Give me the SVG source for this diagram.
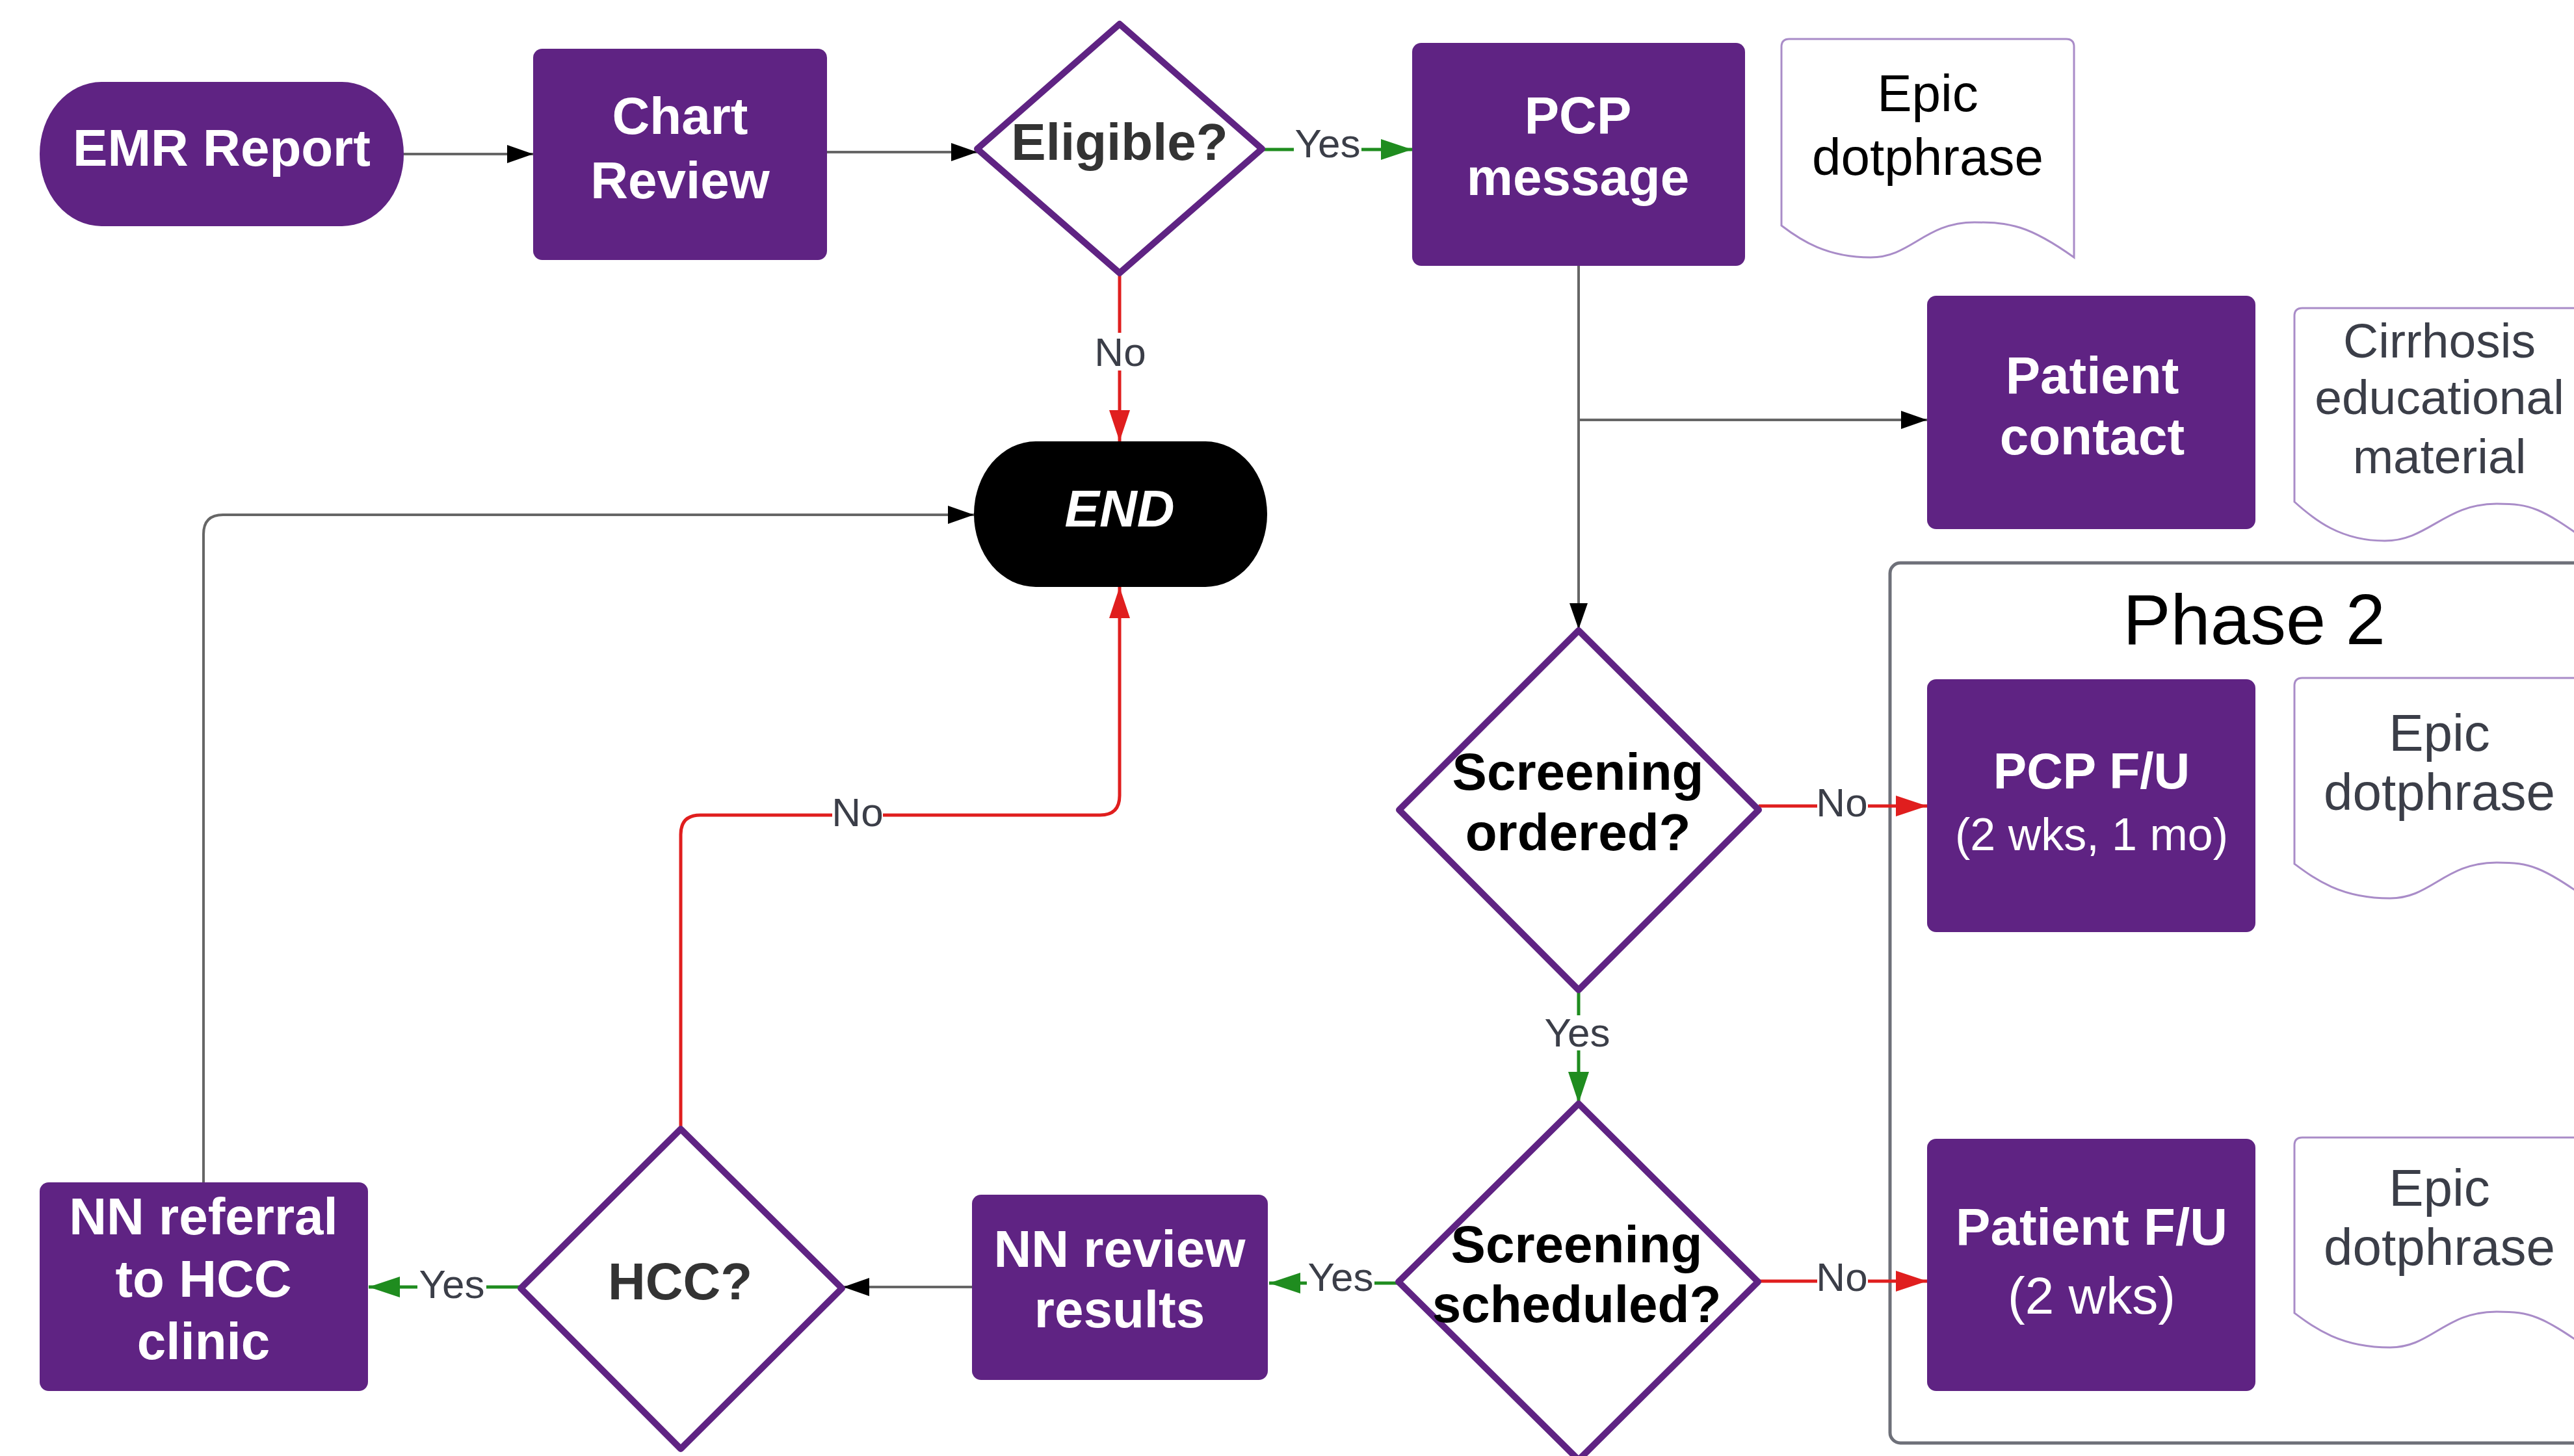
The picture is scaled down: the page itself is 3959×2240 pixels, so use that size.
<svg xmlns="http://www.w3.org/2000/svg" width="3959" height="2240" viewBox="0 0 3959 2240">
<defs>
<style>
.proc{fill:#5f2383;}
.dia{fill:#fff;stroke:#5f2383;stroke-width:10;stroke-linejoin:round;}
.doc{fill:#fff;stroke:#a98cc8;stroke-width:3;}
.nt{font-family:"Liberation Sans",Arial,sans-serif;font-weight:bold;font-size:80px;fill:#fff;text-anchor:middle;dominant-baseline:central;}
.dt{font-family:"Liberation Sans",Arial,sans-serif;font-weight:bold;font-size:80px;fill:#000;text-anchor:middle;dominant-baseline:central;}
.rt{font-family:"Liberation Sans",Arial,sans-serif;font-size:80px;fill:#3b3e48;text-anchor:middle;dominant-baseline:central;}
.lb{font-family:"Liberation Sans",Arial,sans-serif;font-size:62px;fill:#3b3e48;text-anchor:middle;dominant-baseline:central;}
.lbg{fill:#fff;}
.cb{fill:none;stroke:#666;stroke-width:4;}
.cr{fill:none;stroke:#e01e1e;stroke-width:5;}
.cg{fill:none;stroke:#1f8c1f;stroke-width:5;}
</style>
<marker id="ab" viewBox="0 0 10 10" refX="10" refY="5" markerWidth="40" markerHeight="28" markerUnits="userSpaceOnUse" orient="auto" preserveAspectRatio="none"><path d="M0,0 L10,5 L0,10 z" fill="#000"/></marker>
<marker id="ar" viewBox="0 0 10 10" refX="10" refY="5" markerWidth="48" markerHeight="32" markerUnits="userSpaceOnUse" orient="auto" preserveAspectRatio="none"><path d="M0,0 L10,5 L0,10 z" fill="#e01e1e"/></marker>
<marker id="ag" viewBox="0 0 10 10" refX="10" refY="5" markerWidth="48" markerHeight="32" markerUnits="userSpaceOnUse" orient="auto" preserveAspectRatio="none"><path d="M0,0 L10,5 L0,10 z" fill="#1f8c1f"/></marker>
</defs>
<rect x="0" y="0" width="3959" height="2240" fill="#fff"/>

<g id="phase2">
<rect x="2907" y="866" width="1120" height="1354" rx="16" fill="none" stroke="#6e7079" stroke-width="5"/>
<text x="3467" y="952" font-family="'Liberation Sans',Arial,sans-serif" font-size="110" fill="#000" text-anchor="middle" dominant-baseline="central">Phase 2</text>
</g>

<g id="connectors">
<path class="cb" d="M621,237 H820" marker-end="url(#ab)"/>
<path class="cb" d="M1272,234 H1503" marker-end="url(#ab)"/>
<path class="cg" d="M1941,230 H2172" marker-end="url(#ag)"/>
<path class="cr" d="M1722,420 V679" marker-end="url(#ar)"/>
<path class="cb" d="M2428,409 V968" stroke-width="3" stroke="#444" marker-end="url(#ab)"/>
<path class="cb" d="M2428,646 H2964" stroke-width="3" stroke="#444" marker-end="url(#ab)"/>
<path class="cr" d="M2705,1240 H2964" marker-end="url(#ar)"/>
<path class="cg" d="M2428,1523 V1697" marker-end="url(#ag)"/>
<path class="cg" d="M2151,1974 H1952" marker-end="url(#ag)"/>
<path class="cr" d="M2704,1971 H2964" marker-end="url(#ar)"/>
<path class="cb" d="M1495,1980 H1297" marker-end="url(#ab)"/>
<path class="cg" d="M801,1980 H567" marker-end="url(#ag)"/>
<path class="cr" d="M1047,1737 V1284 Q1047,1254 1077,1254 H1692 Q1722,1254 1722,1224 V903" marker-end="url(#ar)"/>
<path class="cb" d="M313,1820 V822 Q313,792 343,792 H1498" stroke="#999" marker-end="url(#ab)"/>
<g id="labels">
<rect class="lbg" x="1990" y="195" width="104" height="52"/>
<text class="lb" x="2042" y="220">Yes</text>
<rect class="lbg" x="1690" y="512" width="66" height="58"/>
<text class="lb" x="1723" y="541">No</text>
<rect class="lbg" x="2795" y="1208" width="78" height="52"/>
<text class="lb" x="2833" y="1234">No</text>
<rect class="lbg" x="2374" y="1562" width="104" height="54"/>
<text class="lb" x="2426" y="1588">Yes</text>
<rect class="lbg" x="2010" y="1940" width="104" height="50"/>
<text class="lb" x="2062" y="1964">Yes</text>
<rect class="lbg" x="2795" y="1938" width="78" height="52"/>
<text class="lb" x="2833" y="1964">No</text>
<rect class="lbg" x="642" y="1950" width="106" height="50"/>
<text class="lb" x="695" y="1975">Yes</text>
<rect class="lbg" x="1280" y="1224" width="78" height="52"/>
<text class="lb" x="1319" y="1249">No</text>
</g>
</g>

<g id="emr">
<rect x="61" y="126" width="560" height="222" rx="95" ry="111" class="proc"/>
<text class="nt" x="341" y="227">EMR Report</text>
</g>
<g id="chart">
<rect x="820" y="75" width="452" height="325" rx="14" class="proc"/>
<text class="nt" x="1046" y="178">Chart</text>
<text class="nt" x="1046" y="277">Review</text>
</g>
<g id="eligible">
<path class="dia" d="M1722,37 L1941,229 L1722,420 L1503,229 Z"/>
<text class="dt" x="1722" y="218" style="fill:#333">Eligible?</text>
</g>
<g id="pcpmsg">
<rect x="2172" y="66" width="512" height="343" rx="14" class="proc"/>
<text class="nt" x="2427" y="177">PCP</text>
<text class="nt" x="2427" y="272">message</text>
</g>
<g id="doc1">
<path class="doc" d="M2740,72 Q2740,60 2752,60 H3178 Q3190,60 3190,72 V396 C3120,346 3090,342 3037,342 C2960,342 2940,396 2877,396 C2810,396 2770,370 2740,347 Z"/>
<text class="rt" x="2965" y="143" style="fill:#000">Epic</text>
<text class="rt" x="2965" y="241" style="fill:#000">dotphrase</text>
</g>
<g id="patientcontact">
<rect x="2964" y="455" width="505" height="359" rx="14" class="proc"/>
<text class="nt" x="3218" y="577">Patient</text>
<text class="nt" x="3218" y="671">contact</text>
</g>
<g id="doc2">
<path class="doc" d="M3529,486 Q3529,474 3541,474 H3967 Q3979,474 3979,486 V832 C3909,782 3893,775 3840,775 C3760,775 3735,832 3668,832 C3600,832 3560,800 3529,772 Z"/>
<text class="rt" x="3752" y="524" style="font-size:75px">Cirrhosis</text>
<text class="rt" x="3752" y="611" style="font-size:75px">educational</text>
<text class="rt" x="3752" y="702" style="font-size:75px">material</text>
</g>
<g id="end">
<rect x="1498" y="679" width="451" height="224" rx="95" ry="112" fill="#000"/>
<text class="nt" x="1722" y="782" font-style="italic">END</text>
</g>
<g id="scrordered">
<path class="dia" d="M2428,970 L2705,1246 L2428,1523 L2152,1246 Z"/>
<text class="dt" x="2427" y="1187">Screening</text>
<text class="dt" x="2427" y="1280">ordered?</text>
</g>
<g id="pcpfu">
<rect x="2964" y="1045" width="505" height="389" rx="14" class="proc"/>
<text class="nt" x="3217" y="1186" style="font-size:77px">PCP F/U</text>
<text class="nt" x="3217" y="1284" style="font-weight:normal;font-size:70px">(2 wks, 1 mo)</text>
</g>
<g id="doc3">
<path class="doc" d="M3529,1055 Q3529,1043 3541,1043 H3967 Q3979,1043 3979,1055 V1382 C3909,1334 3893,1327 3840,1327 C3760,1327 3740,1382 3676,1382 C3600,1382 3560,1352 3529,1329 Z"/>
<text class="rt" x="3752" y="1127">Epic</text>
<text class="rt" x="3752" y="1218">dotphrase</text>
</g>
<g id="scrscheduled">
<path class="dia" d="M2428,1698 L2704,1972 L2428,2246 L2151,1972 Z"/>
<text class="dt" x="2425" y="1914">Screening</text>
<text class="dt" x="2425" y="2006">scheduled?</text>
</g>
<g id="patientfu">
<rect x="2964" y="1752" width="505" height="388" rx="14" class="proc"/>
<text class="nt" x="3217" y="1887">Patient F/U</text>
<text class="nt" x="3217" y="1993" style="font-weight:normal">(2 wks)</text>
</g>
<g id="doc4">
<path class="doc" d="M3529,1762 Q3529,1750 3541,1750 H3967 Q3979,1750 3979,1762 V2073 C3909,2025 3893,2018 3840,2018 C3760,2018 3740,2073 3676,2073 C3600,2073 3560,2043 3529,2020 Z"/>
<text class="rt" x="3752" y="1827">Epic</text>
<text class="rt" x="3752" y="1918">dotphrase</text>
</g>
<g id="nnreview">
<rect x="1495" y="1838" width="455" height="285" rx="14" class="proc"/>
<text class="nt" x="1722" y="1921">NN review</text>
<text class="nt" x="1722" y="2014">results</text>
</g>
<g id="hcc">
<path class="dia" d="M1047,1737 L1295,1982 L1047,2229 L801,1982 Z"/>
<text class="dt" x="1046" y="1971" style="fill:#333">HCC?</text>
</g>
<g id="nnreferral">
<rect x="61" y="1819" width="505" height="321" rx="14" class="proc"/>
<text class="nt" x="313" y="1871">NN referral</text>
<text class="nt" x="313" y="1967">to HCC</text>
<text class="nt" x="313" y="2063">clinic</text>
</g>
</svg>
